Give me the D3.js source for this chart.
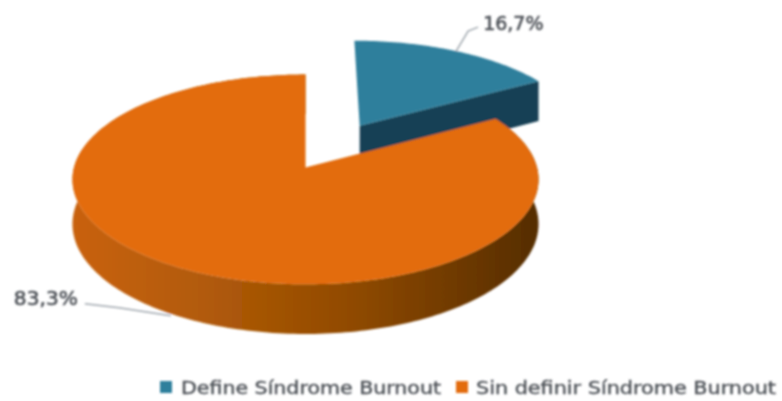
<!DOCTYPE html>
<html><head><meta charset="utf-8">
<script src="https://cdnjs.cloudflare.com/ajax/libs/d3/7.8.5/d3.min.js"></script>
<style>html,body{margin:0;padding:0;background:#fff}svg{display:block}</style></head>
<body><svg id="c" width="782" height="401"></svg>
<script>
const categories = ["Define Síndrome Burnout", "Sin definir Síndrome Burnout"];
const values = [16.7, 83.3];
const labels = ["16,7%", "83,3%"];
const colors = ["#2F7F9C", "#E36C0A"];
const explode = [0.49, 0];

const svg = d3.select("#c");
const defs = svg.append("defs");
defs.append("filter").attr("id","soft").attr("x","-5%").attr("y","-5%").attr("width","110%").attr("height","110%")
  .append("feGaussianBlur").attr("stdDeviation",0.9);
const wall = defs.append("linearGradient").attr("id","wallO")
  .attr("gradientUnits","userSpaceOnUse").attr("x1",72).attr("x2",538).attr("y1",0).attr("y2",0);
[[0,"#C9620A"],[0.3,"#B05A07"],[0.6,"#904A06"],[1,"#552D03"]].forEach(s=>wall.append("stop").attr("offset",s[0]).attr("stop-color",s[1]));

const P = 0.114, DEPTH = 44;
const sx = d3.scaleLinear().domain([-1,1]).range([74,537]);
const sy = d3.scaleLinear().domain([-1,1]).range([271,64]);
const project = (u,v,drop=0) => { const w = 1+P*v; return [sx(u/w), sy(v/w)+drop/w]; };

const pie = d3.pie().sort(null);
const arcs = pie(values);
const root = svg.append("g").attr("filter","url(#soft)");

function rim(a, e, drop){
  const mid=(a.startAngle+a.endAngle)/2, ou=e*Math.sin(mid), ov=e*Math.cos(mid);
  const n=Math.ceil((a.endAngle-a.startAngle)/0.02);
  return d3.range(n+1).map(i=>{
    const t=a.startAngle+(a.endAngle-a.startAngle)*i/n;
    return project(ou+Math.sin(t),ov+Math.cos(t),drop);
  });
}
const centre=(a,e,drop=0)=>{const m=(a.startAngle+a.endAngle)/2;return project(e*Math.sin(m),e*Math.cos(m),drop);};
const line=d3.line();

// blue slice: cut wall, then top
const b=arcs[0], bt=rim(b,explode[0],0), bb=rim(b,explode[0],DEPTH);
root.append("path").attr("fill","#143F54")
  .attr("d",line([centre(b,explode[0]),bt[bt.length-1],bb[bb.length-1],centre(b,explode[0],DEPTH)])+"Z");
root.append("path").attr("fill",colors[0]).attr("d",line([centre(b,explode[0]),...bt])+"Z");

// orange slice: outer wall, then top
const o=arcs[1], ot=rim(o,explode[1],0), ob=rim(o,explode[1],DEPTH);
root.append("path").attr("fill","url(#wallO)").attr("d",line([...ot,...ob.slice().reverse()])+"Z");
root.append("path").attr("fill",colors[1]).attr("d",line([centre(o,explode[1]),...ot])+"Z");

// leader lines, anchored on each slice's mid-angle
function anchor(a,e,drop){const m=(a.startAngle+a.endAngle)/2;
  return project(e*Math.sin(m)+Math.sin(m),e*Math.cos(m)+Math.cos(m),drop);}
const a0=anchor(b,explode[0],0), a1=anchor(o,explode[1],DEPTH);
const leader=[[a0,[a0[0]+12,a0[1]-20],[a0[0]+22,a0[1]-24]],[[a1[0]-6,a1[1]],[a1[0]-58,a1[1]-8],[a1[0]-92,a1[1]-12]]];
leader.forEach(l=>root.append("path").attr("d",line(l)).attr("fill","none").attr("stroke","#A0A7AE").attr("stroke-width",1.5));

const txt=(x,y,s,size,anchorTo)=>root.append("text").attr("x",x).attr("y",y).text(s)
  .attr("font-family","'DejaVu Sans',sans-serif").attr("font-size",size)
  .attr("fill","#4E5258").attr("text-anchor",anchorTo||"start");
txt(a0[0]+27,a0[1]-21,labels[0],19).attr("stroke","#4E5258").attr("stroke-width",0.6);
txt(a1[0]-99,a1[1]-11,labels[1],19,"end").attr("textLength",64).attr("lengthAdjust","spacingAndGlyphs").attr("stroke","#4E5258").attr("stroke-width",0.6);

// legend
const legendX=[160,456], legendText=[181,476], legendLen=[260,300];
categories.forEach((c,i)=>{
  root.append("rect").attr("x",legendX[i]).attr("y",381).attr("width",12).attr("height",12).attr("fill",colors[i]);
  txt(legendText[i],394,c,17).attr("textLength",legendLen[i]).attr("lengthAdjust","spacingAndGlyphs")
    .attr("stroke","#4E5258").attr("stroke-width",0.4);
});
</script></body></html>
